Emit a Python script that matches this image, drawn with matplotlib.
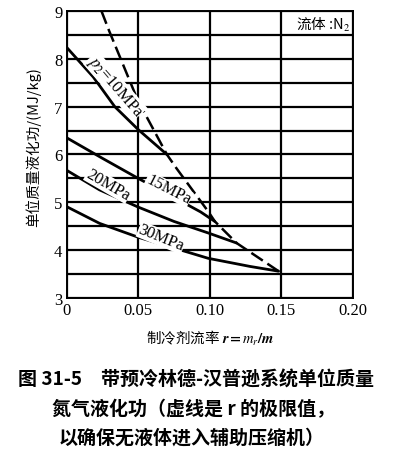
import matplotlib
matplotlib.use("Agg")
import matplotlib.pyplot as plt

plt.rcParams['font.family'] = ['Liberation Serif', 'Noto Sans CJK SC', 'DejaVu Sans']
plt.rcParams['mathtext.fontset'] = 'stix'

# data
r10 = [0.0, 0.0186, 0.0336, 0.05, 0.070]
w10 = [8.24, 7.62, 7.0, 6.52, 6.0]
r15 = [0.0, 0.025, 0.05, 0.08, 0.0935, 0.1035]
w15 = [6.35, 5.92, 5.5, 5.02, 4.8, 4.6]
r20 = [0.0, 0.023, 0.05, 0.075, 0.0988, 0.1186]
w20 = [5.67, 5.26, 4.9, 4.6, 4.36, 4.15]
r30 = [0.0, 0.023, 0.05, 0.0988, 0.128, 0.148]
w30 = [4.91, 4.56, 4.27, 3.83, 3.66, 3.56]
r_lim = [0.0243, 0.0296, 0.0497, 0.070, 0.0767, 0.0988, 0.1035, 0.1186, 0.148]
w_lim = [9.0, 8.59, 7.13, 6.0, 5.71, 4.81, 4.6, 4.15, 3.56]

xticks = [0, 0.05, 0.10, 0.15, 0.20]
xticklabels = ['0', '0.05', '0.10', '0.15', '0.20']
yticks = [3, 4, 5, 6, 7, 8, 9]
yminor = [3.5, 4.5, 5.5, 6.5, 7.5, 8.5]

fig = plt.figure(figsize=(3.99, 4.52), dpi=100)
ax = fig.add_axes([0.167, 0.3385, 0.718, 0.635])

ax.set_xlim(0, 0.20)
ax.set_ylim(3, 9)
ax.set_xticks(xticks)
ax.set_xticklabels(xticklabels)
ax.set_yticks(yticks)
ax.set_yticks(yminor, minor=True)
ax.tick_params(which='both', length=0, labelsize=12, pad=3,
               grid_color='black', grid_linewidth=1.6, grid_alpha=1.0)
ax.xaxis.grid(True, which='major')
ax.yaxis.grid(True, which='both')
ax.set_axisbelow(True)
for s in ax.spines.values():
    s.set_linewidth(1.4)

lw = 2.0
ax.plot(r10, w10, color='black', lw=lw, solid_capstyle='round', zorder=3)
ax.plot(r15, w15, color='black', lw=lw, solid_capstyle='round', zorder=3)
ax.plot(r20, w20, color='black', lw=lw, solid_capstyle='round', zorder=3)
ax.plot(r30, w30, color='black', lw=lw, solid_capstyle='round', zorder=3)
ax.plot(r_lim, w_lim, color='black', lw=1.8, dashes=(5.5, 2.2), zorder=3)

lab_kw = dict(ha='center', va='center', fontsize=12, family=['Liberation Serif'],
              bbox=dict(facecolor='white', edgecolor='none', pad=0.3), zorder=4)
ax.text(0.034, 7.43, r'$p_2$=10MPa', rotation=-49, **lab_kw)
ax.text(0.071, 5.27, '15MPa', rotation=-27, **lab_kw)
ax.text(0.029, 5.37, '20MPa', rotation=-30, **lab_kw)
ax.text(0.066, 4.26, '30MPa', rotation=-22, **lab_kw)

ax.text(0.198, 8.73, '流体 :N$_2$', ha='right', va='center', fontsize=10.5,
        family=['Noto Sans CJK SC', 'Liberation Serif'], zorder=4)

ax.set_ylabel('单位质量液化功/(MJ/kg)', fontsize=10.5,
              family=['Noto Sans CJK SC', 'DejaVu Sans'])
ax.yaxis.set_label_coords(-0.088, 0.53)
ax.set_xlabel(r'制冷剂流率 $\boldsymbol{r=m_r/m}$', fontsize=10.5,
              family=['Noto Sans CJK SC', 'DejaVu Sans'])
ax.xaxis.set_label_coords(0.5, -0.105)

cap_font = ['Noto Sans CJK SC', 'DejaVu Sans']
fig.text(0.49, 1 - 380 / 452, '图 31-5　带预冷林德-汉普逊系统单位质量', ha='center', va='center',
         fontsize=13.7, fontweight='bold', family=cap_font)
fig.text(0.485, 1 - 410 / 452, '氮气液化功（虚线是 r 的极限值，', ha='center', va='center',
         fontsize=13.7, fontweight='bold', family=cap_font)
fig.text(0.48, 1 - 438 / 452, '以确保无液体进入辅助压缩机）', ha='center', va='center',
         fontsize=13.7, fontweight='bold', family=cap_font)

fig.savefig('out.png', dpi=100)
